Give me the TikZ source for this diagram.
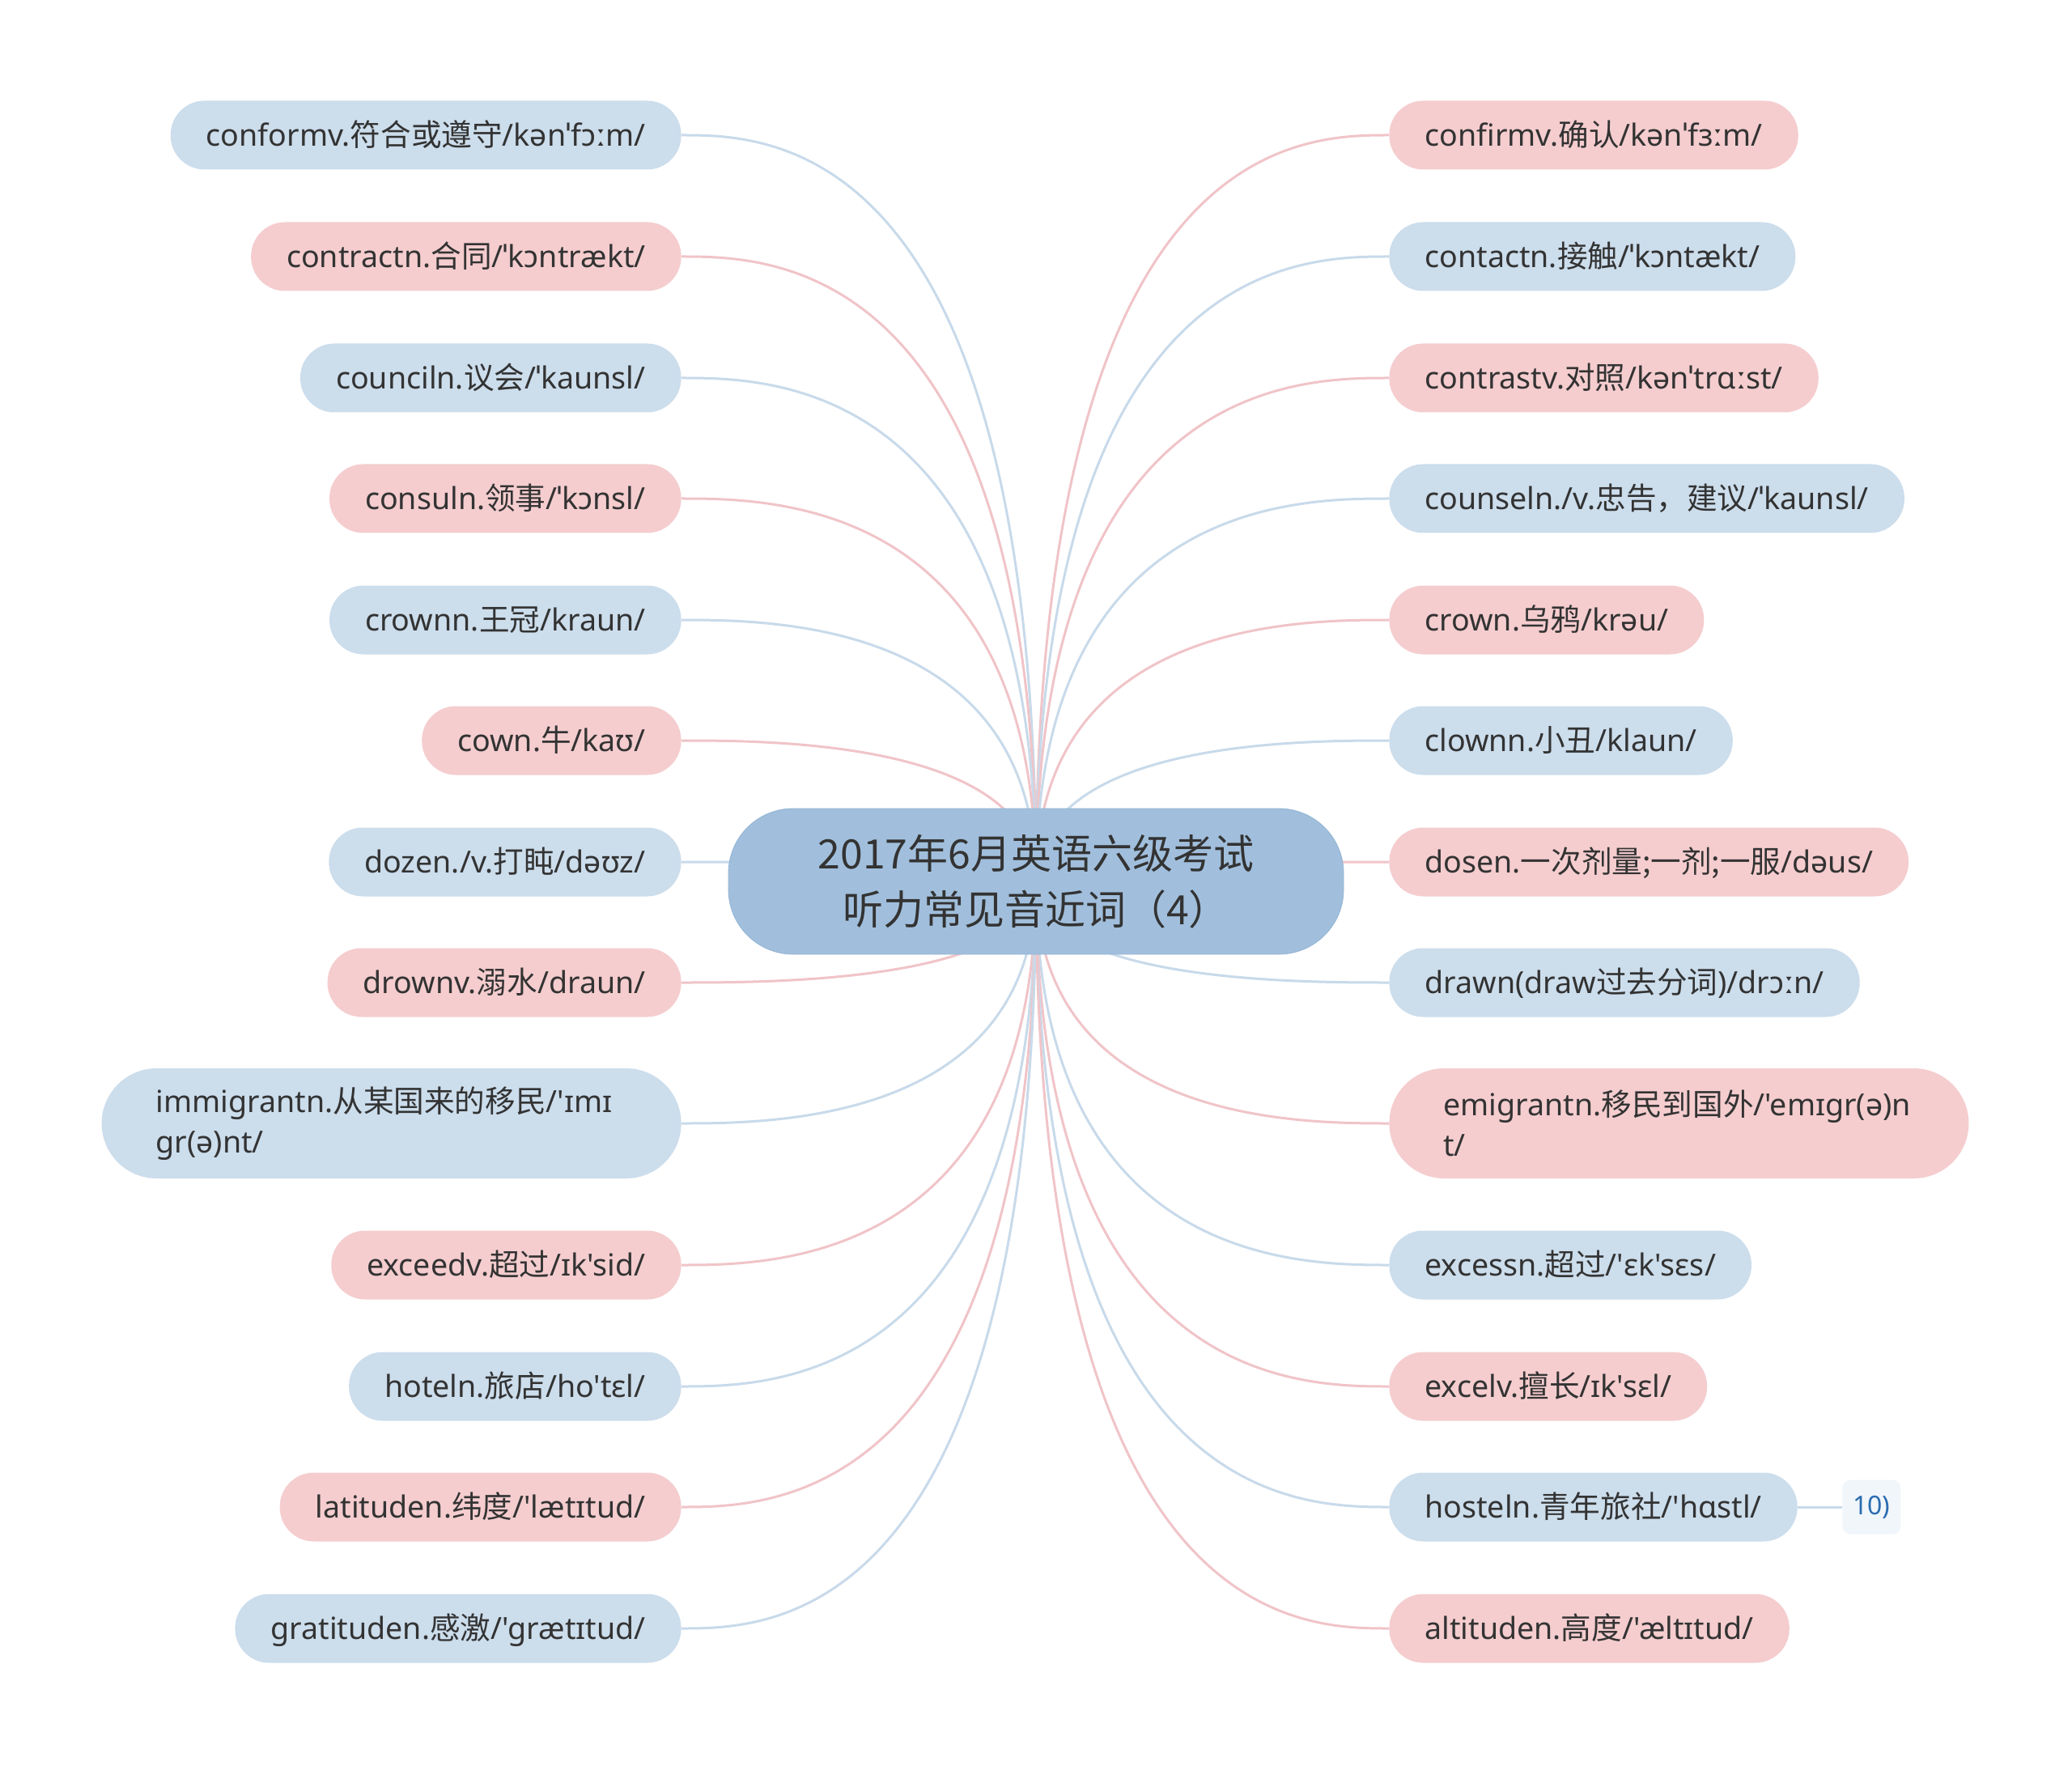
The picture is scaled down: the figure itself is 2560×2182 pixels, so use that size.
\documentclass[tikz,border=0pt]{standalone}
\usepackage{fontspec}
\setmainfont{Noto Sans}[Ligatures=TeXOff]
\newfontfamily\cjk{Noto Sans CJK SC}
\usetikzlibrary{positioning, backgrounds, calc}
\definecolor{txtdark} {HTML}{333333}
\definecolor{hubfill} {HTML}{A1BFDC}
\definecolor{hubline} {HTML}{92B3D4}
\definecolor{leafblue}{HTML}{CCDDEC}
\definecolor{leafpink}{HTML}{F5CDCF}
\definecolor{lnblue}  {HTML}{C8DAEA}
\definecolor{lnpink}  {HTML}{F0C4C8}
\definecolor{tagfill} {HTML}{F1F6FB}
\definecolor{tagtext} {HTML}{2B6CB0}

\begin{document}
\begin{tikzpicture}[
    x=0.5pt, y=-0.5pt,
    every node/.style={text=txtdark},
    hub/.style={
        fill=hubfill, draw=hubline, rounded corners=40pt,
        minimum width=380pt, minimum height=90pt, align=center,
        font=\cjk\fontsize{25}{34.5}\selectfont
    },
    word/.style={
        rounded corners=21pt, minimum height=42.5pt, inner xsep=22pt,
        text height=16pt, text depth=2.5pt,
        font=\fontsize{18.8}{22}\selectfont
    },
    longword/.style={
        rounded corners=34pt, minimum height=68pt, inner xsep=33.5pt,
        text width=291pt, align=left,
        font=\fontsize{18.8}{25.3}\selectfont
    },
    blueword/.style={fill=leafblue},
    pinkword/.style={fill=leafpink},
    branch/.style={
        line width=1.5pt,
        to path={.. controls (\tikztostart |- \tikztotarget)
            and ($(\tikztostart |- \tikztotarget)!0.75!(\tikztotarget)$)
            .. (\tikztotarget)}
    },
    bluelink/.style={branch, draw=lnblue},
    pinklink/.style={branch, draw=lnpink},
    tagbox/.style={
        fill=tagfill, rounded corners=5pt,
        minimum width=36pt, minimum height=33.5pt,
        text=tagtext, font=\fontsize{16}{19}\selectfont
    }
]

% ── CANVAS ─────────────────────────────────────────────────────
\useasboundingbox (0,0) rectangle (2560,2182);

% ── CENTRE ─────────────────────────────────────────────────────
\node[hub] (hub) at (1280,1089)
    {2017年6月英语六级考试\\听力常见音近词（4）};

% ── LEFT WORDS ─────────────────────────────────────────────────
\node[word, blueword, anchor=east] (conform) at (842,167)
    {conformv.{\cjk 符合或遵守}/kənˈfɔːm/};
\node[word, pinkword, anchor=east] (contract) at (842,317)
    {contractn.{\cjk 合同}/ˈkɔntrækt/};
\node[word, blueword, anchor=east] (council) at (842,467)
    {counciln.{\cjk 议会}/ˈkaunsl/};
\node[word, pinkword, anchor=east] (consul) at (842,616)
    {consuln.{\cjk 领事}/ˈkɔnsl/};
\node[word, blueword, anchor=east] (crown) at (842,766)
    {crownn.{\cjk 王冠}/kraun/};
\node[word, pinkword, anchor=east] (cow) at (842,915)
    {cown.{\cjk 牛}/kaʊ/};
\node[word, blueword, anchor=east] (dozen) at (842,1065)
    {dozen./v.{\cjk 打盹}/dəʊz/};
\node[word, pinkword, anchor=east] (drown) at (842,1214)
    {drownv.{\cjk 溺水}/draun/};
\node[longword, blueword, anchor=east] (immigrant) at (842,1388)
    {immigrantn.{\cjk 从某国来的移民}/'ɪmɪ\\gr(ə)nt/};
\node[word, pinkword, anchor=east] (exceed) at (842,1563)
    {exceedv.{\cjk 超过}/ɪk'sid/};
\node[word, blueword, anchor=east] (hotel) at (842,1713)
    {hoteln.{\cjk 旅店}/ho'tɛl/};
\node[word, pinkword, anchor=east] (latitude) at (842,1862)
    {latituden.{\cjk 纬度}/'lætɪtud/};
\node[word, blueword, anchor=east] (gratitude) at (842,2012)
    {gratituden.{\cjk 感激}/'grætɪtud/};

% ── RIGHT WORDS ────────────────────────────────────────────────
\node[word, pinkword, anchor=west] (confirm) at (1716,167)
    {confirmv.{\cjk 确认}/kənˈfɜːm/};
\node[word, blueword, anchor=west] (contact) at (1716,317)
    {contactn.{\cjk 接触}/ˈkɔntækt/};
\node[word, pinkword, anchor=west] (contrast) at (1716,467)
    {contrastv.{\cjk 对照}/kənˈtrɑːst/};
\node[word, blueword, anchor=west] (counsel) at (1716,616)
    {counseln./v.{\cjk 忠告，建议}/ˈkaunsl/};
\node[word, pinkword, anchor=west] (crow) at (1716,766)
    {crown.{\cjk 乌鸦}/krəu/};
\node[word, blueword, anchor=west] (clown) at (1716,915)
    {clownn.{\cjk 小丑}/klaun/};
\node[word, pinkword, anchor=west] (dose) at (1716,1065)
    {dosen.{\cjk 一次剂量;一剂;一服}/dəus/};
\node[word, blueword, anchor=west] (drawn) at (1716,1214)
    {drawn(draw{\cjk 过去分词})/drɔːn/};
\node[longword, pinkword, anchor=west] (emigrant) at (1716,1388)
    {emigrantn.{\cjk 移民到国外}/'emɪgr(ə)n\\t/};
\node[word, blueword, anchor=west] (excess) at (1716,1563)
    {excessn.{\cjk 超过}/'ɛk'sɛs/};
\node[word, pinkword, anchor=west] (excel) at (1716,1713)
    {excelv.{\cjk 擅长}/ɪk'sɛl/};
\node[word, blueword, anchor=west] (hostel) at (1716,1862)
    {hosteln.{\cjk 青年旅社}/'hɑstl/};
\node[word, pinkword, anchor=west] (altitude) at (1716,2012)
    {altituden.{\cjk 高度}/'æltɪtud/};

\node[tagbox, right=27.5pt of hostel] (hosteltag) {10)};

% ── CONNECTORS ─────────────────────────────────────────────────
\begin{scope}[on background layer]
    \fill[white] (0,0) rectangle (2560,2182);

    \draw[bluelink] (hub.center) to (conform.east);
    \draw[pinklink] (hub.center) to (contract.east);
    \draw[bluelink] (hub.center) to (council.east);
    \draw[pinklink] (hub.center) to (consul.east);
    \draw[bluelink] (hub.center) to (crown.east);
    \draw[pinklink] (hub.center) to (cow.east);
    \draw[bluelink] (hub.center) to (dozen.east);
    \draw[pinklink] (hub.center) to (drown.east);
    \draw[bluelink] (hub.center) to (immigrant.east);
    \draw[pinklink] (hub.center) to (exceed.east);
    \draw[bluelink] (hub.center) to (hotel.east);
    \draw[pinklink] (hub.center) to (latitude.east);
    \draw[bluelink] (hub.center) to (gratitude.east);

    \draw[pinklink] (hub.center) to (confirm.west);
    \draw[bluelink] (hub.center) to (contact.west);
    \draw[pinklink] (hub.center) to (contrast.west);
    \draw[bluelink] (hub.center) to (counsel.west);
    \draw[pinklink] (hub.center) to (crow.west);
    \draw[bluelink] (hub.center) to (clown.west);
    \draw[pinklink] (hub.center) to (dose.west);
    \draw[bluelink] (hub.center) to (drawn.west);
    \draw[pinklink] (hub.center) to (emigrant.west);
    \draw[bluelink] (hub.center) to (excess.west);
    \draw[pinklink] (hub.center) to (excel.west);
    \draw[bluelink] (hub.center) to (hostel.west);
    \draw[pinklink] (hub.center) to (altitude.west);

    \draw[lnblue, line width=1.5pt] (hostel) -- (hosteltag);
\end{scope}

\end{tikzpicture}
\end{document}
